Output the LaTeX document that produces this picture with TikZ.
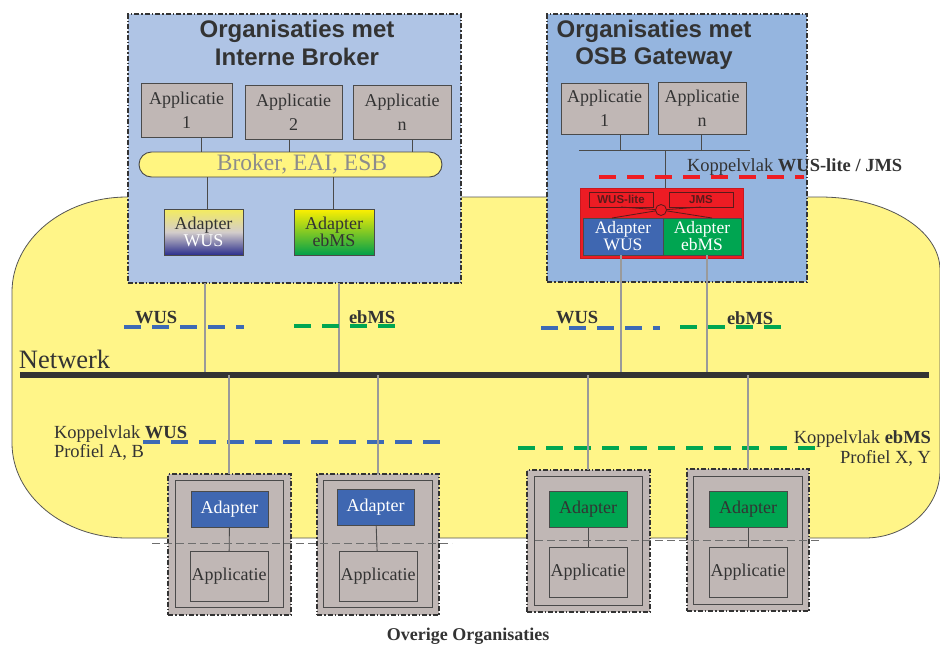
\documentclass[tikz,border=0pt]{standalone}
\usepackage{fontspec}
\setmainfont{Liberation Serif}
\setsansfont{Liberation Sans}
\newcommand\myfs[2]{\fontsize{#1}{#2}\selectfont}
\definecolor{cloud}{HTML}{FFF588}
\definecolor{cloudline}{HTML}{555555}
\definecolor{lblue}{HTML}{AFC4E5}
\definecolor{rblue}{HTML}{95B5DF}
\definecolor{appgray}{HTML}{C0B7B5}
\definecolor{boxline}{HTML}{4A4A4A}
\definecolor{txt}{HTML}{333333}
\definecolor{adblue}{HTML}{3F67B1}
\definecolor{adgreen}{HTML}{00A551}
\definecolor{adred}{HTML}{ED1C24}
\definecolor{dblue}{HTML}{3D6AB5}
\definecolor{dgreen}{HTML}{00A651}
\definecolor{dred}{HTML}{EE1D23}
\definecolor{brkyel}{HTML}{FFF580}
\definecolor{brktxt}{HTML}{8C8C8C}
\definecolor{navyg}{HTML}{2B2E8C}
\definecolor{yelg}{HTML}{F4EC5E}
\definecolor{adyel}{HTML}{FFF000}
\definecolor{adgrn2}{HTML}{00A04A}
\definecolor{linkgray}{HTML}{9A9A9A}
\definecolor{redline}{HTML}{5A1A1A}
\tikzset{
  sz/.style 2 args={minimum width=#1pt, minimum height=#2pt},
  orgbox/.style={draw=txt, line width=1.1pt, dash pattern=on 5pt off 2pt on 1.5pt off 2pt},
  appbox/.style={draw=boxline, fill=appgray, line width=0.9pt, align=center, font=\myfs{18}{24}},
  adbox/.style={draw=boxline, line width=0.9pt, align=center, font=\myfs{18}{17.5}},
  title/.style={font=\sffamily\bfseries\myfs{24}{28}, text=txt},
  lbl/.style={font=\myfs{18.5}{20}, text=txt},
  blbl/.style={font=\bfseries\myfs{18.5}{20}, text=txt},
  ifdash/.style={line width=4.5pt, dash pattern=on 17pt off 11pt},
  darklink/.style={draw=boxline, line width=0.9pt},
  graylink/.style={draw=linkgray, line width=1.1pt},
  sepline/.style={draw=boxline!80, line width=0.8pt, dash pattern=on 8pt off 4pt},
}
\begin{document}
\begin{tikzpicture}[x=1pt,y=-1pt, every node/.style={inner sep=0pt, outer sep=0pt, text=txt}]
\useasboundingbox (0,0) rectangle (940,646);

% network area
\fill[cloud, draw=cloudline, line width=0.8pt]
  (127,197) -- (820,197) .. controls (886.3,197) and (940,229.7) .. (940,270)
  -- (940,470) .. controls (940,507.6) and (906.4,538) .. (865,538)
  -- (127,538) .. controls (63.5,538) and (12,495.5) .. (12,443)
  -- (12,292) .. controls (12,239.5) and (63.5,197) .. (127,197) -- cycle;

% ---------- left organisation ----------
\node[orgbox, fill=lblue, sz={333}{269}] (ob) at (294.5,148.5) {};
\node[title, anchor=base] (t1) at (297,37) {Organisaties met};
\node[title, anchor=base] (t2) at (297,65) {Interne Broker};
\node[appbox, sz={91}{54}] (a1) at (186.5,110) {Applicatie\\1};
\node[appbox, sz={97}{54}] (a2) at (293.5,112) {Applicatie\\2};
\node[appbox, sz={98}{54}] (an) at (402,112) {Applicatie\\n};
\node[draw=boxline, fill=brkyel, line width=0.9pt, rounded corners=12.5pt, sz={303}{25}] (br) at (290.5,164.5) {};
\node[font=\myfs{23.5}{25}, text=brktxt] (brt) at (302,164.5) {Broker, EAI, ESB};
\node[adbox, sz={79}{46}, top color=yelg, bottom color=navyg, middle color=appgray!70] (aw) at (203.5,232) {Adapter\\\textcolor{white}{WUS}};
\node[adbox, sz={80}{46}, top color=adyel, bottom color=adgrn2] (ae) at (334,232) {Adapter\\ebMS};
\coordinate (x201) at (201,0);
\coordinate (x289) at (289,0);
\coordinate (x412) at (412,0);
\coordinate (x207) at (207,0);
\coordinate (x333) at (333,0);
\draw[darklink] (a1.south -| x201) -- (br.north -| x201);
\draw[darklink] (a2.south -| x289) -- (br.north -| x289);
\draw[darklink] (an.south -| x412) -- (br.north -| x412);
\draw[darklink] (br.south -| x207) -- (aw.north -| x207);
\draw[darklink] (br.south -| x333) -- (ae.north -| x333);

% ---------- right organisation ----------
\node[orgbox, fill=rblue, sz={260}{268}] (og) at (677,148) {};
\node[title, anchor=base] (t3) at (654,37) {Organisaties met};
\node[title, anchor=base] (t4) at (654,64) {OSB Gateway};
\node[appbox, sz={87}{51}] (g1) at (604.5,108.5) {Applicatie\\1};
\node[appbox, sz={88}{52}] (gn) at (702,108) {Applicatie\\n};
\coordinate (busL) at (579,150);
\coordinate (busR) at (750,150);
\coordinate (x620) at (620,0);
\coordinate (x701) at (701,0);
\coordinate (x665) at (665,0);
\draw[darklink] (busL) -- (busR);
\draw[darklink] (g1.south -| x620) -- (busL -| x620);
\draw[darklink] (gn.south -| x701) -- (busL -| x701);
\node[draw=adred!85!black, fill=adred, line width=0.8pt, sz={163}{70}] (gw) at (661.5,223) {};
\draw[darklink] (busL -| x665) -- (gw.north -| x665);
\coordinate (kwA) at (599,177);
\coordinate (kwB) at (804,177);
\draw[ifdash, draw=dred] (kwA) -- (kwB);
\node[lbl, anchor=base west] (kwl) at (687,171) {Koppelvlak \textbf{WUS-lite / JMS}};
\node[draw=redline, fill=adred, line width=0.8pt, sz={64}{15}, font=\sffamily\bfseries\myfs{11.5}{12}, text=redline] (wl) at (621,199.5) {WUS-lite};
\node[draw=redline, fill=adred, line width=0.8pt, sz={64}{15}, font=\sffamily\bfseries\myfs{11.5}{12}, text=redline] (jms) at (701,199.5) {JMS};
\node[adbox, fill=adblue, text=white, sz={80}{37}, font=\myfs{17.5}{17}] (gaw) at (623,236.5) {Adapter\\WUS};
\node[adbox, fill=adgreen, text=white, sz={78}{37}, font=\myfs{17.5}{17}] (gae) at (702,236.5) {Adapter\\ebMS};
\coordinate (f1) at (612,218);
\coordinate (f2) at (712,218);
\draw[draw=redline, line width=0.8pt] (wl.south) -- (661,210) -- (jms.south);
\draw[draw=redline, line width=0.8pt] (f1) -- (661,210) -- (f2);
\node[circle, draw=redline, fill=adred, line width=0.8pt, minimum size=11pt] (ball) at (661,210) {};

% ---------- network ----------
\coordinate (netL) at (20,375);
\coordinate (netR) at (929,375);
\node[font=\myfs{26.5}{28}, anchor=base west] (nw) at (19,368) {Netwerk};

\coordinate (x205) at (205,0);
\coordinate (x339) at (339,0);
\coordinate (x621) at (621,0);
\coordinate (x707) at (707,0);
\draw[graylink] (ob.south -| x205) -- (netL -| x205);
\draw[graylink] (ob.south -| x339) -- (netL -| x339);
\draw[graylink] (gaw.south -| x621) -- (netL -| x621);
\draw[graylink] (gae.south -| x707) -- (netL -| x707);

\draw[ifdash, draw=dblue] (124,327) coordinate (d1a) -- (244,327) coordinate (d1b);
\draw[ifdash, draw=dgreen] (294,326) coordinate (d2a) -- (395,326) coordinate (d2b);
\draw[ifdash, draw=dblue] (541,328) coordinate (d3a) -- (660,328) coordinate (d3b);
\draw[ifdash, draw=dgreen] (680,327) coordinate (d4a) -- (781,327) coordinate (d4b);
\node[blbl, anchor=base west] (lw1) at (135,323) {WUS};
\node[blbl, anchor=base west] (le1) at (349,323) {ebMS};
\node[blbl, anchor=base west] (lw2) at (556,323) {WUS};
\node[blbl, anchor=base west] (le2) at (727,324) {ebMS};

\draw[line width=5.5pt, draw=txt] (netL) -- (netR);

\draw[ifdash, draw=dblue] (143,442) coordinate (d5a) -- (440,442) coordinate (d5b);
\draw[ifdash, draw=dgreen] (518,448) coordinate (d6a) -- (815,448) coordinate (d6b);
\node[lbl, anchor=base west] (kw) at (54,438) {Koppelvlak \textbf{WUS}};
\node[lbl, anchor=base west] (pab) at (54,457) {Profiel A, B};
\node[lbl, anchor=base east] (ke) at (931,443) {Koppelvlak \textbf{ebMS}};
\node[lbl, anchor=base east] (pxy) at (931,463) {Profiel X, Y};

% ---------- other organisations ----------
\node[orgbox, fill=appgray, sz={123}{141}] (o1) at (229.5,544.5) {};
\node[draw=boxline, line width=0.9pt, sz={108}{127}] (i1) at (229,543.5) {};
\node[adbox, fill=adblue, text=white, sz={77}{36}] (b1) at (229.5,509) {Adapter};
\node[appbox, sz={78}{50}] (p1) at (229,576) {Applicatie};

\node[orgbox, fill=appgray, sz={122}{141}] (o2) at (378,544.5) {};
\node[draw=boxline, line width=0.9pt, sz={109}{127}] (i2) at (377.5,543.5) {};
\node[adbox, fill=adblue, text=white, sz={77}{36}] (b2) at (375.5,507) {Adapter};
\node[appbox, sz={78}{50}] (p2) at (378,576) {Applicatie};

\node[orgbox, fill=appgray, sz={123}{142}] (o3) at (588.5,541) {};
\node[draw=boxline, line width=0.9pt, sz={108}{129}] (i3) at (588,540.5) {};
\node[adbox, fill=adgreen, sz={78}{36}] (b3) at (588,509) {Adapter};
\node[appbox, sz={78}{50}] (p3) at (588,572) {Applicatie};

\node[orgbox, fill=appgray, sz={122}{142}] (o4) at (748,540) {};
\node[draw=boxline, line width=0.9pt, sz={109}{128}] (i4) at (747.5,540) {};
\node[adbox, fill=adgreen, sz={78}{36}] (b4) at (748,509) {Adapter};
\node[appbox, sz={78}{50}] (p4) at (748,572) {Applicatie};

\draw[darklink] (b1) -- (p1);
\draw[darklink] (b2) -- (p2);
\draw[darklink] (b3) -- (p3);
\draw[darklink] (b4) -- (p4);

\coordinate (x229) at (229,0);
\coordinate (x378) at (378,0);
\coordinate (x588) at (588,0);
\coordinate (x748) at (748,0);
\draw[graylink] (netL -| x229) -- (o1.north -| x229);
\draw[graylink] (netL -| x378) -- (o2.north -| x378);
\draw[graylink] (netL -| x588) -- (o3.north -| x588);
\draw[graylink] (netL -| x748) -- (o4.north -| x748);

\draw[sepline] (152,543) coordinate (s1a) -- (452,543) coordinate (s1b);
\draw[sepline] (535,540) coordinate (s2a) -- (822,540) coordinate (s2b);

\node[font=\bfseries\myfs{18}{20}, anchor=base] (ov) at (468,640) {Overige Organisaties};
\end{tikzpicture}
\end{document}
